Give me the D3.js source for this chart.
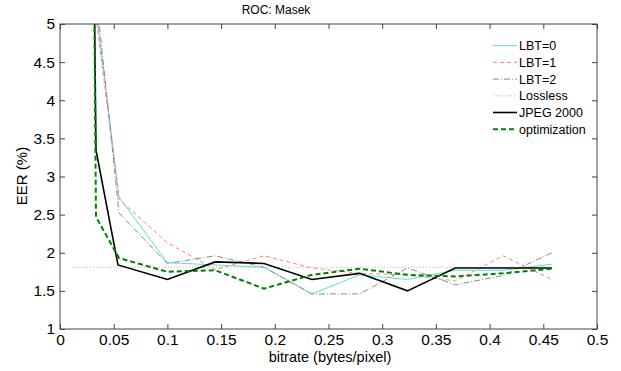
<!DOCTYPE html>
<html><head><meta charset="utf-8">
<script src="https://cdn.jsdelivr.net/npm/d3@7"></script>
<style>body{margin:0;background:#fff;font-family:"Liberation Sans",Arial,sans-serif;}</style>
</head><body><svg id="c" width="621" height="371"></svg>
<script>
const xTicks = [0,0.05,0.1,0.15,0.2,0.25,0.3,0.35,0.4,0.45,0.5];
const yTicks = [1,1.5,2,2.5,3,3.5,4,4.5,5];
const xLBT = [0.0335,0.055,0.1,0.1445,0.19,0.2345,0.279,0.3235,0.368,0.4125,0.458];
const lbt0 = [5.2,2.73,1.87,1.84,1.81,1.46,1.71,1.65,1.77,1.77,1.85];
const lbt1 = [5.1,2.70,2.13,1.78,1.96,1.80,1.73,1.71,1.63,1.96,1.65];
const lbt2 = [5.4,2.52,1.86,1.96,1.81,1.46,1.46,1.80,1.58,1.70,2.00];
const xLossless = [0.011,0.458];
const lossless = [1.81,1.81];
const xJ = [0.0315,0.0335,0.054,0.1,0.1445,0.19,0.2345,0.279,0.3235,0.368,0.4125,0.458];
const jpeg2000 = [6.0,3.35,1.84,1.65,1.88,1.86,1.65,1.73,1.50,1.80,1.80,1.80];
const xO = [0.0315,0.0335,0.055,0.1,0.1445,0.19,0.2345,0.279,0.3235,0.368,0.4125,0.458];
const optimization = [6.0,2.47,1.93,1.75,1.77,1.53,1.71,1.79,1.71,1.69,1.73,1.79];

const series = [
  {name:"LBT=0", xs:xLBT, ys:lbt0, color:"#5fdcdc", w:1, dash:null},
  {name:"LBT=1", xs:xLBT, ys:lbt1, color:"#ff7f7f", w:1, dash:"4,3"},
  {name:"LBT=2", xs:xLBT, ys:lbt2, color:"#8a8a8a", w:1, dash:"6,2,1,2"},
  {name:"Lossless", xs:xLossless, ys:lossless, color:"#b0b0b0", w:1, dash:"1,2"},
  {name:"JPEG 2000", xs:xJ, ys:jpeg2000, color:"#000000", w:1.6, dash:null},
  {name:"optimization", xs:xO, ys:optimization, color:"#008000", w:2, dash:"5,3"}
];

const svg = d3.select("#c");
const L=60, R=597, T=24, B=329;
const x = d3.scaleLinear().domain([0,0.5]).range([L,R]);
const y = d3.scaleLinear().domain([1,5]).range([B,T]);

svg.append("defs").append("clipPath").attr("id","clip")
  .append("rect").attr("x",L).attr("y",T).attr("width",R-L).attr("height",B-T);

const line = d3.line().x(d=>x(d[0])).y(d=>y(d[1]));
const g = svg.append("g").attr("clip-path","url(#clip)");
series.forEach(s=>{
  g.append("path").datum(s.xs.map((v,i)=>[v,s.ys[i]]))
    .attr("d",line).attr("fill","none").attr("stroke",s.color)
    .attr("stroke-width",s.w).attr("stroke-dasharray",s.dash);
});

// axes
const axCol="#444";
const tl=5;
svg.append("g").attr("transform",`translate(0,${B})`)
  .call(d3.axisBottom(x).tickValues(xTicks).tickSize(-tl).tickPadding(5).tickFormat(d3.format("~g")))
  .call(a=>a.select(".domain").remove());
svg.append("g").attr("transform",`translate(0,${T})`)
  .call(d3.axisTop(x).tickValues(xTicks).tickSize(-tl).tickFormat(""))
  .call(a=>a.select(".domain").remove());
svg.append("g").attr("transform",`translate(${L},0)`)
  .call(d3.axisLeft(y).tickValues(yTicks).tickSize(-tl).tickPadding(5).tickFormat(d3.format("~g")))
  .call(a=>a.select(".domain").remove());
svg.append("g").attr("transform",`translate(${R},0)`)
  .call(d3.axisRight(y).tickValues(yTicks).tickSize(-tl).tickFormat(""))
  .call(a=>a.select(".domain").remove());
svg.selectAll(".tick line").attr("stroke",axCol);
svg.selectAll(".tick text").attr("fill","#000").attr("font-size","15.5px")
  .attr("font-family","'Liberation Sans',Arial,sans-serif");
svg.append("rect").attr("x",L).attr("y",T).attr("width",R-L).attr("height",B-T)
  .attr("fill","none").attr("stroke",axCol).attr("stroke-width",1);

// labels
svg.append("text").attr("x",276).attr("y",14).attr("text-anchor","middle")
  .attr("font-size","12px").text("ROC: Masek");
svg.append("text").attr("x",330).attr("y",362).attr("text-anchor","middle")
  .attr("font-size","14.5px").text("bitrate (bytes/pixel)");
svg.append("text").attr("transform","translate(27,176) rotate(-90)").attr("text-anchor","middle")
  .attr("font-size","15px").text("EER (%)");

// legend
const lg = svg.append("g");
series.forEach((s,i)=>{
  const yy = 45.7 + i*16.7;
  lg.append("line").attr("x1",493).attr("x2",517).attr("y1",yy).attr("y2",yy)
    .attr("stroke",s.color).attr("stroke-width",s.w).attr("stroke-dasharray",s.dash);
  lg.append("text").attr("x",519).attr("y",yy+4.5).attr("font-size","12.5px").text(s.name);
});
</script></body></html>
